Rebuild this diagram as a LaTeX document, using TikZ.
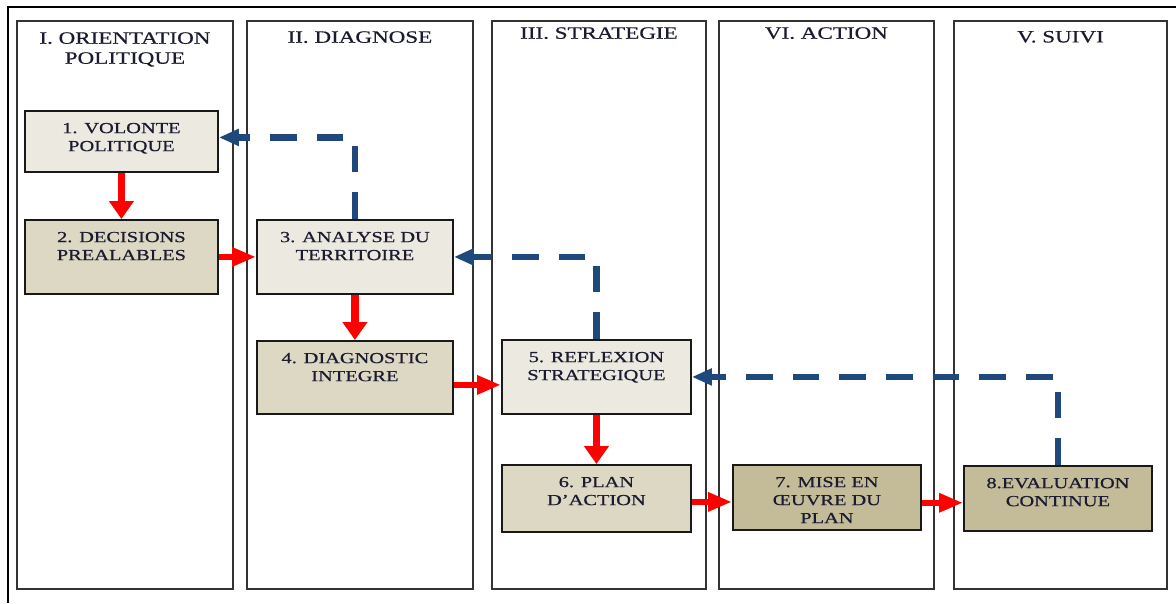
\documentclass[tikz,border=0pt]{standalone}
\usepackage{fontspec}
\usepackage{tikz}
\usetikzlibrary{arrows.meta, positioning}
\newfontfamily\stagefont[FakeStretch=1.33, FakeBold=0.6]{Liberation Serif}
\definecolor{plan-ink}{HTML}{1A1A30}
\definecolor{plan-frame}{HTML}{333333}
\definecolor{plan-light}{HTML}{ECEAE0}
\definecolor{plan-mid}{HTML}{DDD8C3}
\definecolor{plan-dark}{HTML}{C4BC99}
\definecolor{plan-red}{HTML}{FF0000}
\definecolor{plan-blue}{HTML}{1F497D}

\begin{document}
\begin{tikzpicture}[x=0.75pt, y=-0.75pt,
    lane/.style={rectangle, draw=plan-frame, line width=1.4pt, inner sep=0pt, minimum height=426pt, anchor=north west},
    lanetitle/.style={inner sep=0pt, align=center, text=plan-ink, font=\stagefont\fontsize{13pt}{15pt}\selectfont},
    stage/.style n args={3}{rectangle, draw=black!90, line width=1.4pt, fill=#1, inner sep=0pt, anchor=north west,
        text=plan-ink, font=\stagefont\fontsize{11.5pt}{13.5pt}\selectfont,
        execute at begin node={\begin{minipage}[c][#3][t]{#2}\centering\vspace*{9pt}},
        execute at end node={\end{minipage}}},
    harrow/.style={-{Triangle[length=18pt, width=13.5pt]}, draw=plan-red, line width=4.5pt},
    varrow/.style={-{Triangle[length=13.5pt, width=18pt]}, draw=plan-red, line width=5.8pt},
    backarrow/.style={-{Triangle[length=15pt, width=12pt]}, draw=plan-blue, line width=5pt, dash pattern=on 20pt off 15pt}
]
\useasboundingbox (0,0) rectangle (1176,603);

% Frame
\draw[line width=1.4pt] (1176,7) -- (8,7) -- (8,603);

% Lanes
\node[lane, minimum width=162pt] (lane1) at (16,20) {};
\node[lane, minimum width=169.5pt] (lane2) at (246,20) {};
\node[lane, minimum width=160.5pt] (lane3) at (491,20) {};
\node[lane, minimum width=161.25pt] (lane4) at (718,20) {};
\node[lane, minimum width=159.75pt] (lane5) at (953,20) {};

\node[lanetitle, below=9pt of lane1.north] (orientation) {I. ORIENTATION\\POLITIQUE};
\node[lanetitle, below=8.25pt of lane2.north] (diagnose) {II. DIAGNOSE};
\node[lanetitle, below=5.25pt of lane3.north] (strategie) {III. STRATEGIE};
\node[lanetitle, below=5.25pt of lane4.north] (action) {VI. ACTION};
\node[lanetitle, below=8pt of lane5.north] (suivi) {V. SUIVI};

% Stages
\node[stage={plan-light}{144.75pt}{45.75pt}] (volonte) at (24,110) {1. VOLONTE\\POLITIQUE};
\node[stage={plan-mid}{144.75pt}{55.5pt}] (decisions) at (24,219) {2. DECISIONS\\PREALABLES};
\node[stage={plan-light}{147pt}{55.5pt}] (analyse) at (256,219) {3. ANALYSE DU\\TERRITOIRE};
\node[stage={plan-mid}{147pt}{54.75pt}] (diagnostic) at (256,340) {4. DIAGNOSTIC\\INTEGRE};
\node[stage={plan-light}{141.75pt}{55.5pt}] (reflexion) at (501,339) {5. REFLEXION\\STRATEGIQUE};
\node[stage={plan-mid}{141.75pt}{50.25pt}] (plan) at (501,464) {6. PLAN\\D’ACTION};
\node[stage={plan-dark}{141pt}{48.75pt}] (mise) at (732,464) {7. MISE EN\\ŒUVRE DU\\PLAN};
\node[stage={plan-dark}{141pt}{48.75pt}] (evaluation) at (963,465) {8.EVALUATION\\CONTINUE};

% Forward arrows
\draw[varrow] (volonte) -- (decisions);
\draw[harrow] (decisions) -- (analyse);
\draw[varrow] (analyse) -- (diagnostic);
\draw[harrow] ([yshift=-5.6pt]diagnostic.east) -- ([yshift=-5.6pt]diagnostic.east -| reflexion.west);
\draw[varrow] (reflexion) -- (plan);
\draw[harrow] ([yshift=-2.6pt]plan.east) -- ([yshift=-2.6pt]plan.east -| mise.west);
\draw[harrow] ([yshift=-4pt]mise.east) -- ([yshift=-4pt]mise.east -| evaluation.west);

% Feedback arrows
\draw[backarrow] (analyse.north) |- ([yshift=3pt]volonte.east);
\draw[backarrow] (reflexion.north) |- (analyse.east);
\draw[backarrow] (evaluation.north) |- (reflexion.east);

\end{tikzpicture}
\end{document}
